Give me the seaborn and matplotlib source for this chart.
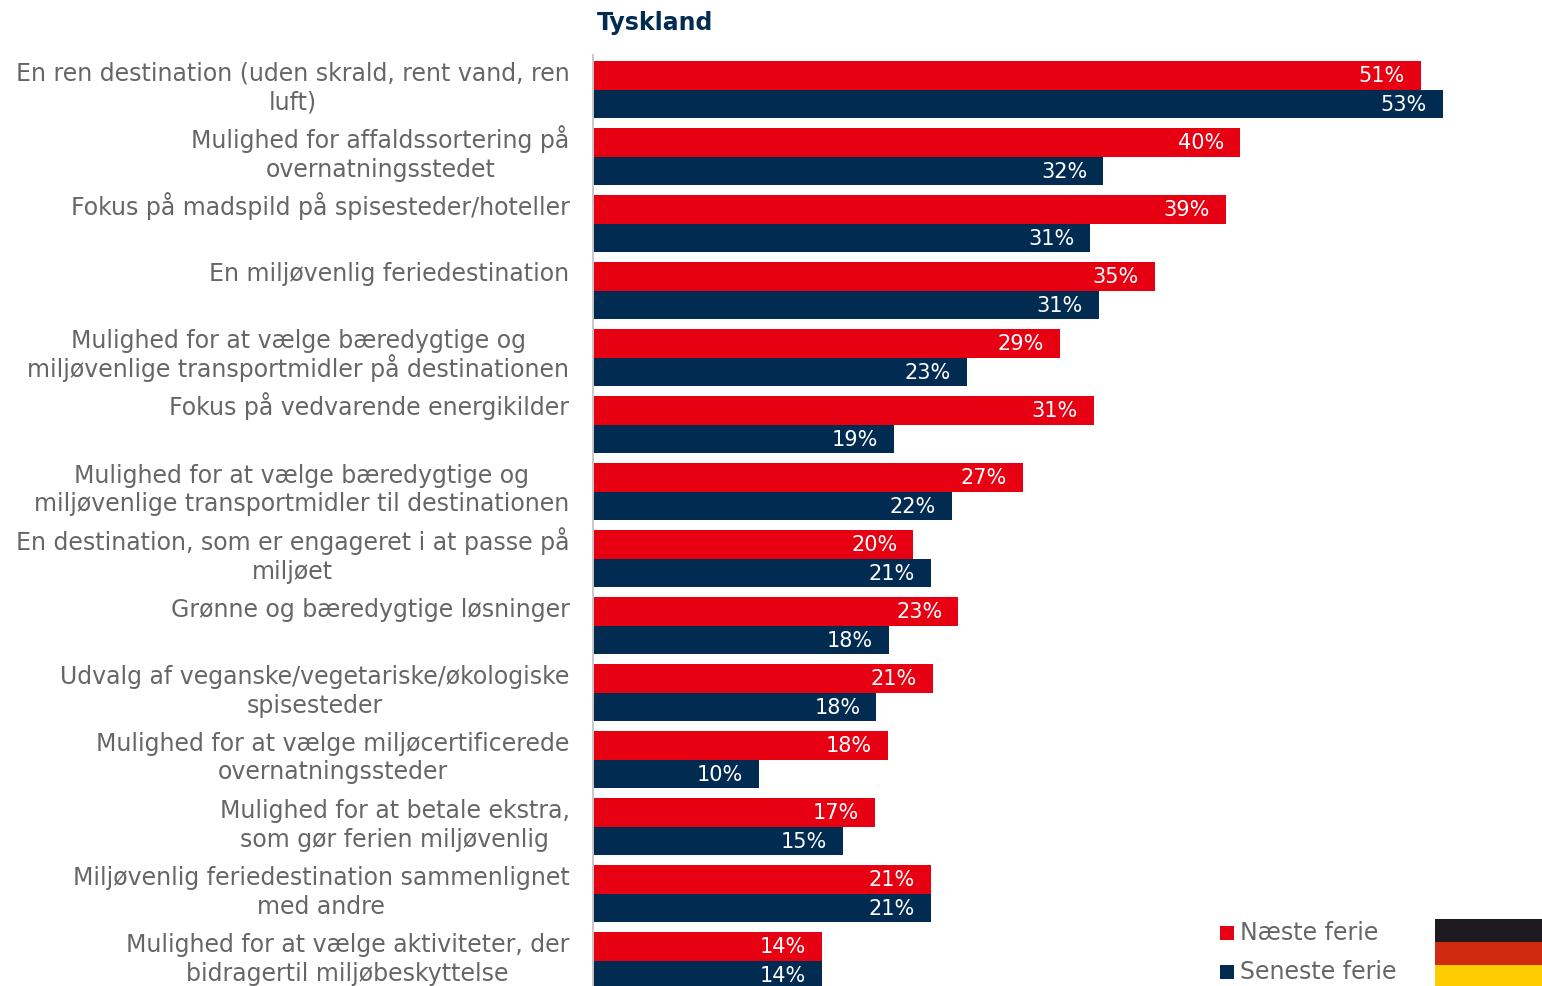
import matplotlib
matplotlib.use("Agg")
import matplotlib.pyplot as plt
from matplotlib.patches import Rectangle
from matplotlib.transforms import ScaledTranslation
import pandas as pd
import seaborn as sns

categories = [
    "En ren destination (uden skrald, rent vand, ren\nluft)",
    "Mulighed for affaldssortering på\novernatningsstedet",
    "Fokus på madspild på spisesteder/hoteller",
    "En miljøvenlig feriedestination",
    "Mulighed for at vælge bæredygtige og\nmiljøvenlige transportmidler på destinationen",
    "Fokus på vedvarende energikilder",
    "Mulighed for at vælge bæredygtige og\nmiljøvenlige transportmidler til destinationen",
    "En destination, som er engageret i at passe på\nmiljøet",
    "Grønne og bæredygtige løsninger",
    "Udvalg af veganske/vegetariske/økologiske\nspisesteder",
    "Mulighed for at vælge miljøcertificerede\novernatningssteder",
    "Mulighed for at betale ekstra,\nsom gør ferien miljøvenlig",
    "Miljøvenlig feriedestination sammenlignet\nmed andre",
    "Mulighed for at vælge aktiviteter, der\nbidragertil miljøbeskyttelse",
]
naeste = [51.4, 40.2, 39.3, 34.9, 29.0, 31.1, 26.7, 19.9, 22.7, 21.1, 18.3, 17.5, 21.0, 14.2]
seneste = [52.8, 31.7, 30.9, 31.4, 23.2, 18.7, 22.3, 21.0, 18.4, 17.6, 10.3, 15.5, 21.0, 14.2]
naeste_labels = ["51%", "40%", "39%", "35%", "29%", "31%", "27%", "20%", "23%", "21%", "18%", "17%", "21%", "14%"]
seneste_labels = ["53%", "32%", "31%", "31%", "23%", "19%", "22%", "21%", "18%", "18%", "10%", "15%", "21%", "14%"]
series_names = ["Næste ferie", "Seneste ferie"]
title = "Tyskland"
RED, NAVY, GREY = "#E60012", "#022B52", "#666666"
FLAG = ["#1F1A1F", "#D02A10", "#FFCC00"]

W, H, DPI = 1542, 987, 100
sns.set_theme(style="white")
plt.rcParams["font.family"] = ["DejaVu Sans"]

df = pd.DataFrame({
    "cat": categories * 2,
    "val": naeste + seneste,
    "series": [series_names[0]] * 14 + [series_names[1]] * 14,
})
fig = plt.figure(figsize=(W / DPI, H / DPI), dpi=DPI)
AX_TOP = 56
ROW0, PITCH = 90.5, 67.0
ax = fig.add_axes([593 / W, 0, (W - 593) / W, (H - AX_TOP) / H])
sns.barplot(data=df, y="cat", x="val", hue="series", hue_order=series_names,
            palette=[RED, NAVY], width=0.865, gap=0, dodge=True, saturation=1,
            legend=False, ax=ax, orient="h", linewidth=0)
ax.set_xlim(0, 949 / 16.1)
ax.set_ylim((H - ROW0) / PITCH, (AX_TOP - ROW0) / PITCH)
ax.set_xlabel(""); ax.set_ylabel("")
ax.xaxis.set_visible(False)
for s in ["top", "right", "bottom"]:
    ax.spines[s].set_visible(False)
ax.spines["left"].set_color("#C8C8C8")
ax.spines["left"].set_linewidth(1.4)
ax.tick_params(axis="y", length=0, pad=17)
ax.set_yticks(range(len(categories)))
ax.set_yticklabels(categories, fontsize=17, color=GREY, va="baseline",
                   multialignment="center", linespacing=1.26)
for t, cat in zip(ax.get_yticklabels(), categories):
    lines = cat.split("\n")
    # the anchor is the last baseline: lift single lines, drop the second line of two
    shift = 10 if len(lines) == 1 else -19
    if len(lines) == 2 and "å" in lines[1]:
        t.set_linespacing(1.07)  # a ring accent would otherwise widen the gap
    t.set_transform(t.get_transform() + ScaledTranslation(0, shift / DPI, fig.dpi_scale_trans))

for cont, labs in zip(ax.containers, [naeste_labels, seneste_labels]):
    for t in ax.bar_label(cont, labels=labs, padding=-11.5, color="white",
                          fontsize=15, label_type="edge"):
        t.set_ha("right")

fig.text(597 / W, 1 - 23 / H, title, fontsize=17, fontweight="bold", color=NAVY, va="center")

# legend
for y, c, n in [(933.5, RED, series_names[0]), (972.5, NAVY, series_names[1])]:
    fig.patches.append(Rectangle((1220 / W, 1 - (y + 7) / H), 14 / W, 14 / H,
                                 transform=fig.transFigure, color=c, lw=0))
    fig.text(1240 / W, 1 - y / H, n, fontsize=17, color=GREY, va="center")

# flag
for i, c in enumerate(FLAG):
    fig.patches.append(Rectangle((1435 / W, 1 - (919.5 + 23 * (i + 1)) / H), 107 / W, 23 / H,
                                 transform=fig.transFigure, color=c, lw=0))
fig.savefig("out.png", dpi=DPI)
